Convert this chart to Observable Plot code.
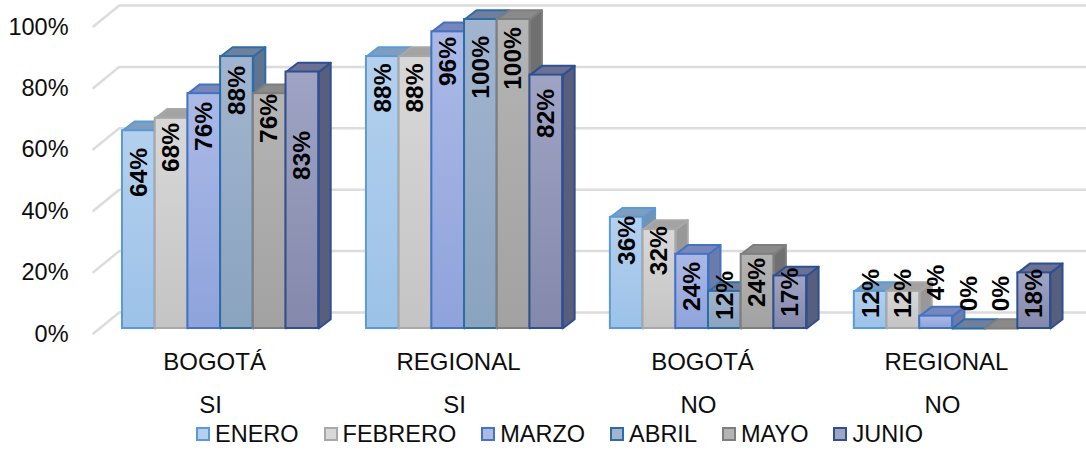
<!DOCTYPE html>
<html><head><meta charset="utf-8">
<script src="https://cdn.jsdelivr.net/npm/d3@7"></script>
<script src="https://cdn.jsdelivr.net/npm/@observablehq/plot@0.6"></script>
<style>
html,body{margin:0;padding:0;background:#fff;overflow:hidden}
#legend{display:flex;height:32px;align-items:center;font:23.5px "Liberation Sans",Arial,sans-serif;color:#0d0d0d;padding-left:196px}
#legend .item{display:flex;align-items:center;margin-right:25px}
#legend .sw{width:10px;height:10px;border:2px solid;margin-right:5px}
</style></head><body>
<div id="chart"></div><div id="legend"></div>
<script>
const groupLabels=["BOGOTÁ","REGIONAL","BOGOTÁ","REGIONAL"];
const answerLabels=["SI","SI","NO","NO"];
const months=["ENERO","FEBRERO","MARZO","ABRIL","MAYO","JUNIO"];
const enero=[64,88,36,12];
const febrero=[68,88,32,12];
const marzo=[76,96,24,4];
const abril=[88,100,12,0];
const mayo=[76,100,24,0];
const junio=[83,82,17,18];
const seriesValues=[enero,febrero,marzo,abril,mayo,junio];
// level (in %) at which each rotated label sits in the source
const labelLevels=[[50.5,77.8,28.5,11.3],[58.6,77.8,25.2,11.3],[65.4,86.4,13.6,14.9],[77,84.5,10.7,11.3],[68,87.4,14.9,11.3],[56,69.6,11.7,11.3]];
const yTicks=[0,20,40,60,80,100];
const palette=[
 {a:"#b4d0ee",b:"#9cc2e8",s:"#5b9bd5",top:"#7f9dbf",side:"#7292b5"},
 {a:"#d8d8d8",b:"#c4c4c4",s:"#a8a8a8",top:"#a3a3a3",side:"#989898"},
 {a:"#aab9e6",b:"#8fa3dc",s:"#4472c4",top:"#7787b9",side:"#6b7cab"},
 {a:"#a2b5d0",b:"#8aa3bf",s:"#2e6da4",top:"#6f809e",side:"#5f7490"},
 {a:"#b4b4b4",b:"#a2a2a2",s:"#7e7e7e",top:"#8a8a8a",side:"#707070"},
 {a:"#9fa4c4",b:"#8488aa",s:"#2f4f8f",top:"#6b7095",side:"#585e7e"}
];
const groupStep=7.46, depthX=0.367, depthY=3, wallX=0.89, wallY=6.8;
const wallLevel=v=>5.18+0.9935*v;
const font="Liberation Sans";
const bars=seriesValues.flatMap((vals,s)=>vals.map((v,g)=>({s,g,v,x0:g*groupStep+s,x1:g*groupStep+s+1,level:labelLevels[s][g]})));
const face=(points,id)=>points.map(([x,y])=>({x,y,id}));
const marks=[];
marks.push(()=>{
  const defs=d3.create("svg:defs");
  palette.forEach((p,i)=>{
    const g=defs.append("linearGradient").attr("id","grad"+i).attr("x1",0).attr("y1",0).attr("x2",0).attr("y2",1);
    g.append("stop").attr("offset",0).attr("stop-color",p.a);
    g.append("stop").attr("offset",1).attr("stop-color",p.b);
  });
  return defs.node();
});
// wall gridlines
const gridPts=yTicks.flatMap(v=>face([[-wallX,wallLevel(v)-wallY],[-0.1,wallLevel(v)],[29.48,wallLevel(v)]],v));
marks.push(Plot.line(gridPts,{x:"x",y:"y",z:"id",stroke:"#dcdcdc",strokeWidth:2.5}));
// bars, painted left to right
palette.forEach((p,s)=>{
  const mine=bars.filter(b=>b.s===s);
  const side=mine.flatMap(b=>face([[b.x1,0],[b.x1+depthX,depthY],[b.x1+depthX,b.v+depthY],[b.x1,b.v],[b.x1,0]],b.g));
  const top=mine.flatMap(b=>face([[b.x0,b.v],[b.x0+depthX,b.v+depthY],[b.x1+depthX,b.v+depthY],[b.x1,b.v],[b.x0,b.v]],b.g));
  marks.push(
    Plot.line(side,{x:"x",y:"y",z:"id",fill:p.side,stroke:p.s,strokeWidth:2}),
    Plot.line(top,{x:"x",y:"y",z:"id",fill:p.top,stroke:p.s,strokeWidth:2}),
    Plot.rect(mine,{x1:"x0",x2:"x1",y1:0,y2:"v",fill:"url(#grad"+s+")",stroke:p.s,strokeWidth:2})
  );
});
// data labels
marks.push(Plot.text(bars,{x:b=>b.x0+0.5,y:"level",text:b=>b.v+"%",rotate:-90,fontWeight:"bold",fontSize:24.5,fontFamily:font,fill:"#000",lineAnchor:"middle"}));
// y tick labels
marks.push(Plot.text(yTicks,{x:()=>-1.65,y:v=>v*0.9935,dy:5.5,text:v=>v+"%",textAnchor:"end",fontSize:23.5,fontFamily:font,fill:"#0d0d0d",lineAnchor:"middle"}));
// category labels
const cats=groupLabels.map((c,g)=>({c,a:answerLabels[g],x:g*groupStep+3}));
marks.push(Plot.text(cats,{x:"x",y:-11,text:"c",fontSize:24,fontFamily:font,fill:"#0d0d0d",lineAnchor:"middle",dx:-6}));
marks.push(Plot.text(cats,{x:"x",y:-24.9,text:"a",fontSize:24,fontFamily:font,fill:"#0d0d0d",lineAnchor:"middle",dx:-10}));
const chart=Plot.plot({width:1086,height:418,margin:0,
  x:{domain:[-3.731,29.48],axis:null},
  y:{domain:[0,100],range:[328,19],axis:null},
  marks});
chart.style.display="block";chart.style.background="#fff";
document.getElementById("chart").append(chart);
const lg=d3.select("#legend");
months.forEach((m,i)=>{
  const it=lg.append("div").attr("class","item");
  it.append("div").attr("class","sw").style("background",palette[i].a).style("border-color",palette[i].s);
  it.append("span").text(m);
});
</script></body></html>
